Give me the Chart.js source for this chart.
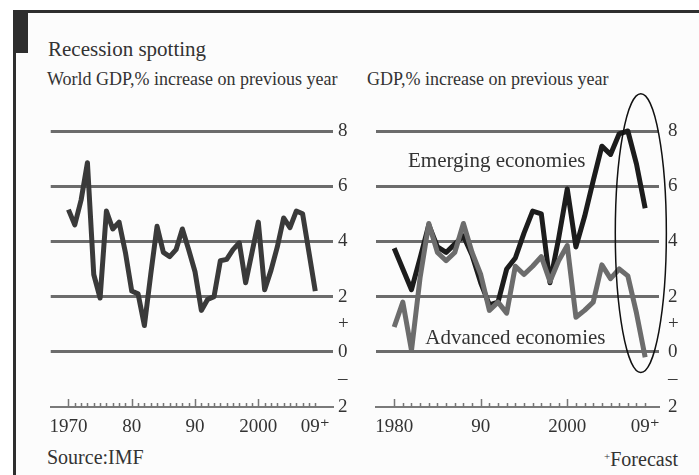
<!DOCTYPE html>
<html lang="en">
<head>
<meta charset="UTF-8">
<title>Recession spotting</title>
<script src="https://cdn.jsdelivr.net/npm/chart.js"></script>
<style>
  * { margin: 0; padding: 0; box-sizing: border-box; }
  body {
    width: 699px; height: 475px; position: relative; overflow: hidden;
    background: #fff; color: #333;
    font-family: 'Liberation Serif', 'DejaVu Serif', serif;
  }
  #frame {
    position: absolute; left: 13px; top: 10px; width: 700px; height: 480px;
    border-top: 3px solid #2e2e2e; border-left: 3px solid #2e2e2e;
    background: #fcfcfc;
  }
  #tab { position: absolute; left: 13px; top: 10px; width: 15px; height: 43px; background: #2e2e2e; }
  .txt { position: absolute; white-space: nowrap; line-height: 1; }
  canvas { position: absolute; }
</style>
</head>
<body>
  <div id="frame"></div>
  <div id="tab"></div>
  <div class="txt" style="left:48px; top:39px; font-size:21px;">Recession spotting</div>
  <div class="txt" style="left:47px; top:70px; font-size:18px;">World GDP,% increase on previous year</div>
  <div class="txt" style="left:367px; top:70px; font-size:18px;">GDP,% increase on previous year</div>
  <div class="txt" style="left:47px; top:447px; font-size:20px;">Source:IMF</div>
  <div class="txt" style="right:21px; top:449px; font-size:20px;"><span style="font-size:11px; vertical-align:6px;">+</span>Forecast</div>

  <canvas id="worldChart" width="320" height="357" style="left:40px; top:88px;"></canvas>
  <canvas id="groupChart" width="336" height="357" style="left:362px; top:88px;"></canvas>

  <script>
    // world GDP, 1970-2009
    const worldYears = [1970, 1971, 1972, 1973, 1974, 1975, 1976, 1977, 1978, 1979,
      1980, 1981, 1982, 1983, 1984, 1985, 1986, 1987, 1988, 1989,
      1990, 1991, 1992, 1993, 1994, 1995, 1996, 1997, 1998, 1999,
      2000, 2001, 2002, 2003, 2004, 2005, 2006, 2007, 2008, 2009];
    const worldGdp = [5.15, 4.6, 5.5, 6.85, 2.8, 1.95, 5.1, 4.45, 4.7, 3.6,
      2.2, 2.1, 0.95, 2.8, 4.55, 3.6, 3.45, 3.7, 4.45, 3.7,
      2.9, 1.5, 1.9, 2.0, 3.3, 3.35, 3.7, 3.95, 2.5, 3.6,
      4.7, 2.25, 2.95, 3.8, 4.85, 4.5, 5.1, 5.0, 3.6, 2.2];

    // emerging / advanced, 1980-2009
    const groupYears = [1980, 1981, 1982, 1983, 1984, 1985, 1986, 1987, 1988, 1989,
      1990, 1991, 1992, 1993, 1994, 1995, 1996, 1997, 1998, 1999,
      2000, 2001, 2002, 2003, 2004, 2005, 2006, 2007, 2008, 2009];
    const emergingGdp = [3.75, 3.0, 2.25, 3.4, 4.6, 3.8, 3.6, 3.9, 4.2, 3.5,
      2.5, 1.7, 1.8, 3.0, 3.4, 4.3, 5.1, 5.0, 2.5, 4.1,
      5.9, 3.8, 4.9, 6.2, 7.45, 7.15, 7.9, 8.0, 6.8, 5.2];
    const advancedGdp = [0.9, 1.8, 0.05, 2.7, 4.65, 3.6, 3.3, 3.6, 4.65, 3.6,
      2.8, 1.5, 1.8, 1.4, 3.1, 2.8, 3.1, 3.45, 2.55, 3.3,
      3.85, 1.25, 1.5, 1.8, 3.15, 2.65, 3.0, 2.75, 1.4, -0.2];

    const worldLabelYears = [1970, 1980, 1990, 2000, 2009];
    const worldLabelText = ['1970', '80', '90', '2000', '09⁺'];
    const groupLabelYears = [1980, 1990, 2000, 2009];
    const groupLabelText = ['1980', '90', '2000', '09⁺'];

    const yTickValues = [-2, -1, 0, 1, 2, 3, 4, 5, 6, 7, 8];
    const yTickText = ['2', '–', '0', '+', '2', '', '4', '', '6', '', '8'];
    const yGridValues = [0, 2, 4, 6, 8];

    const serif = "'Liberation Serif', 'DejaVu Serif', serif";

    function points(years, values) {
      return years.map((yr, i) => ({ x: yr, y: values[i] }));
    }

    // year ticks on the base line, text notes, forecast ring
    const decor = {
      id: 'decor',
      afterDatasetsDraw(chart, args, opts) {
        const ctx = chart.ctx;
        const xs = chart.scales.x, ys = chart.scales.y;
        const base = ys.getPixelForValue(-2);
        ctx.save();
        ctx.strokeStyle = '#777';
        ctx.lineWidth = 1.5;
        opts.tickYears.forEach(yr => {
          const px = Math.round(xs.getPixelForValue(yr)) + 0.5;
          ctx.beginPath();
          ctx.moveTo(px, base);
          ctx.lineTo(px, base - (yr % 10 === 0 ? 8 : 4));
          ctx.stroke();
        });
        ctx.fillStyle = '#333';
        ctx.font = '21px ' + serif;
        ctx.textBaseline = 'alphabetic';
        (opts.notes || []).forEach(n => {
          ctx.fillText(n.text, xs.getPixelForValue(n.x), ys.getPixelForValue(n.y));
        });
        if (opts.ring) {
          const r = opts.ring;
          const cx = xs.getPixelForValue(r.x), cy = ys.getPixelForValue(r.y);
          const rx = Math.abs(xs.getPixelForValue(r.x + r.rx) - cx);
          const ry = Math.abs(ys.getPixelForValue(r.y + r.ry) - cy);
          ctx.beginPath();
          ctx.ellipse(cx, cy, rx, ry, 0, 0, Math.PI * 2);
          ctx.strokeStyle = '#111';
          ctx.lineWidth = 1.5;
          ctx.stroke();
        }
        ctx.restore();
      }
    };

    function lineSet(data, color) {
      return {
        data: data,
        borderColor: color,
        borderWidth: 5,
        borderJoinStyle: 'round',
        pointRadius: 0,
        tension: 0,
        clip: false
      };
    }

    function makeChart(id, datasets, xMin, xMax, labelYears, labelText, padLeft, yWidth, yPad, decorOpts) {
      return new Chart(document.getElementById(id), {
        type: 'line',
        data: { datasets: datasets },
        options: {
          responsive: false,
          animation: false,
          layout: { padding: { left: padLeft, top: 43, right: 0, bottom: 0 } },
          plugins: { legend: { display: false }, tooltip: { enabled: false }, decor: decorOpts },
          scales: {
            x: {
              type: 'linear',
              min: xMin,
              max: xMax,
              afterBuildTicks: s => { s.ticks = labelYears.map(v => ({ value: v })); },
              afterFit: s => { s.height = 38; },
              ticks: {
                autoSkip: false,
                maxRotation: 0,
                padding: 9,
                color: '#333',
                font: { family: serif, size: 19 },
                callback: v => labelText[labelYears.indexOf(v)]
              },
              grid: { display: true, drawOnChartArea: false, drawTicks: false, color: 'transparent' },
              border: { display: true, color: '#7a7a7a', width: 2 }
            },
            y: {
              position: 'right',
              min: -2,
              max: 8,
              afterBuildTicks: s => { s.ticks = yTickValues.map(v => ({ value: v })); },
              afterFit: s => { s.width = yWidth; },
              ticks: {
                padding: yPad,
                color: '#333',
                font: { family: serif, size: 19 },
                callback: v => yTickText[yTickValues.indexOf(v)]
              },
              grid: {
                drawTicks: false,
                lineWidth: 3,
                color: c => yGridValues.includes(c.tick.value) ? '#6c6c6c' : 'transparent'
              },
              border: { display: false }
            }
          }
        },
        plugins: [decor]
      });
    }

    makeChart('worldChart',
      [lineSet(points(worldYears, worldGdp), '#3a3a3a')],
      1967.2, 2011.8, worldLabelYears, worldLabelText, 7, 27, 5,
      { tickYears: worldYears });

    makeChart('groupChart',
      [lineSet(points(groupYears, advancedGdp), '#6c6c6c'),
       lineSet(points(groupYears, emergingGdp), '#1c1c1c')],
      1977.9, 2010.6, groupLabelYears, groupLabelText, 14, 39, 9,
      {
        tickYears: groupYears,
        notes: [
          { text: 'Emerging economies', x: 1981.6, y: 6.68 },
          { text: 'Advanced economies', x: 1983.6, y: 0.3 }
        ],
        ring: { x: 2008.5, y: 4.3, rx: 2.95, ry: 5.05 }
      });
  </script>
</body>
</html>
